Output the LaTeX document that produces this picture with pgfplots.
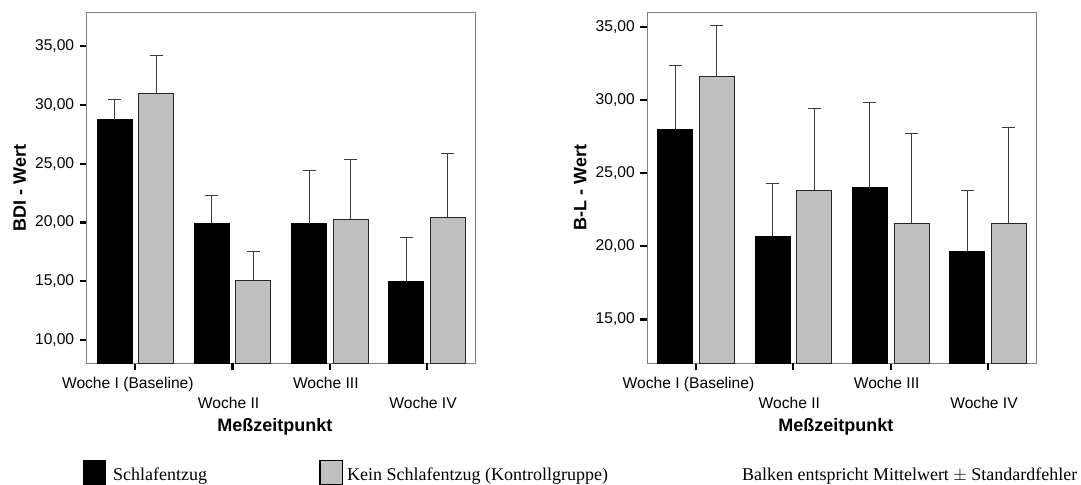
\documentclass[border=0pt]{standalone}
\usepackage{fontspec}
\setmainfont{Liberation Serif}
\newfontfamily\arial{Liberation Sans}
\usepackage{pgfplots}
\pgfplotsset{compat=1.18}
\definecolor{barGray}{RGB}{192,192,192}
\definecolor{frameGray}{RGB}{128,128,128}
\definecolor{errGray}{RGB}{60,60,60}

\pgfplotsset{spss/.style={
  scale only axis, width=389bp, height=351bp, anchor=south west,
  xmin=-0.5, xmax=3.5,
  axis line style={frameGray, line width=1bp},
  tick align=outside, xtick pos=lower, ytick pos=left,
  xtick={0,2}, xticklabels={{Woche I (Baseline)\hspace*{7bp}}, Woche III},
  extra x ticks={1,3}, extra x tick labels={Woche II, Woche IV},
  extra x tick style={xticklabel style={yshift=-20bp}},
  major tick length=7bp,
  tick style={black, line width=2.2bp},
  tick label style={font=\arial\fontsize{15.6bp}{18bp}\selectfont, text=black},
  xticklabel style={xshift=-4bp, yshift=-3.5bp},
  yticklabel style={xshift=-2bp, /pgf/number format/fixed, /pgf/number format/fixed zerofill,
    /pgf/number format/precision=2, /pgf/number format/use comma,
    /pgf/number format/assume math mode=true},
  every axis y label/.style={at={(axis description cs:-0.172,0.5)}, rotate=90, anchor=center,
    font=\arial\bfseries\fontsize{18bp}{20bp}\selectfont},
  every axis x label/.style={at={(axis description cs:0.484,-0.1949)}, anchor=base,
    font=\arial\bfseries\fontsize{18bp}{20bp}\selectfont},
  xlabel={Meßzeitpunkt},
  ybar=6.5bp, bar width=35bp,
  ytick={10,15,...,35},
},
blackbar/.style={fill=black, draw=black, line width=0.8bp,
  error bars/.cd, y dir=plus, y explicit,
  error bar style={line width=1bp, errGray},
  error mark options={rotate=90, mark size=6.5bp, line width=1bp, errGray}},
graybar/.style={fill=barGray, draw=black!85, line width=0.8bp,
  error bars/.cd, y dir=plus, y explicit,
  error bar style={line width=1bp, errGray},
  error mark options={rotate=90, mark size=6.5bp, line width=1bp, errGray}},
}

\begin{document}
\begin{tikzpicture}
\useasboundingbox (0,0) rectangle (1081bp,485bp);

\begin{axis}[spss, at={(86.7bp,121.7bp)}, ymin=8, ymax=37.9, ylabel={BDI - Wert}]
\addplot[blackbar] coordinates {
 (0,28.75) +- (0,1.7)
 (1,19.95) +- (0,2.35)
 (2,19.9) +- (0,4.5)
 (3,14.95) +- (0,3.75)
};
\addplot[graybar] coordinates {
 (0,31.0) +- (0,3.2)
 (1,15.05) +- (0,2.5)
 (2,20.25) +- (0,5.1)
 (3,20.45) +- (0,5.4)
};
\end{axis}

\begin{axis}[spss, at={(647.3bp,121.7bp)}, width=389.4bp, ymin=12, ymax=36, ytick={15,20,...,35}, ylabel={B-L - Wert}]
\addplot[blackbar] coordinates {
 (0,27.97) +- (0,4.38)
 (1,20.67) +- (0,3.6)
 (2,24.0) +- (0,5.86)
 (3,19.63) +- (0,4.21)
};
\addplot[graybar] coordinates {
 (0,31.6) +- (0,3.52)
 (1,23.84) +- (0,5.6)
 (2,21.58) +- (0,6.16)
 (3,21.58) +- (0,6.52)
};
\end{axis}

% legend
\fill[black] (82.7bp,0) rectangle (106bp,25bp);
\filldraw[fill=barGray, draw=black, line width=1.5bp] (320bp,0.75bp) rectangle (342.5bp,24.5bp);
\node[anchor=base west, inner sep=0, font=\fontsize{18bp}{21bp}\selectfont] at (113bp,5bp) {Schlafentzug};
\node[anchor=base west, inner sep=0, font=\fontsize{18bp}{21bp}\selectfont] at (347bp,5bp) {Kein Schlafentzug (Kontrollgruppe)};
\node[anchor=base east, inner sep=0, font=\fontsize{18bp}{21bp}\selectfont] at (1077.5bp,5bp) {Balken entspricht Mittelwert $\pm$ Standardfehler};
\end{tikzpicture}
\end{document}
